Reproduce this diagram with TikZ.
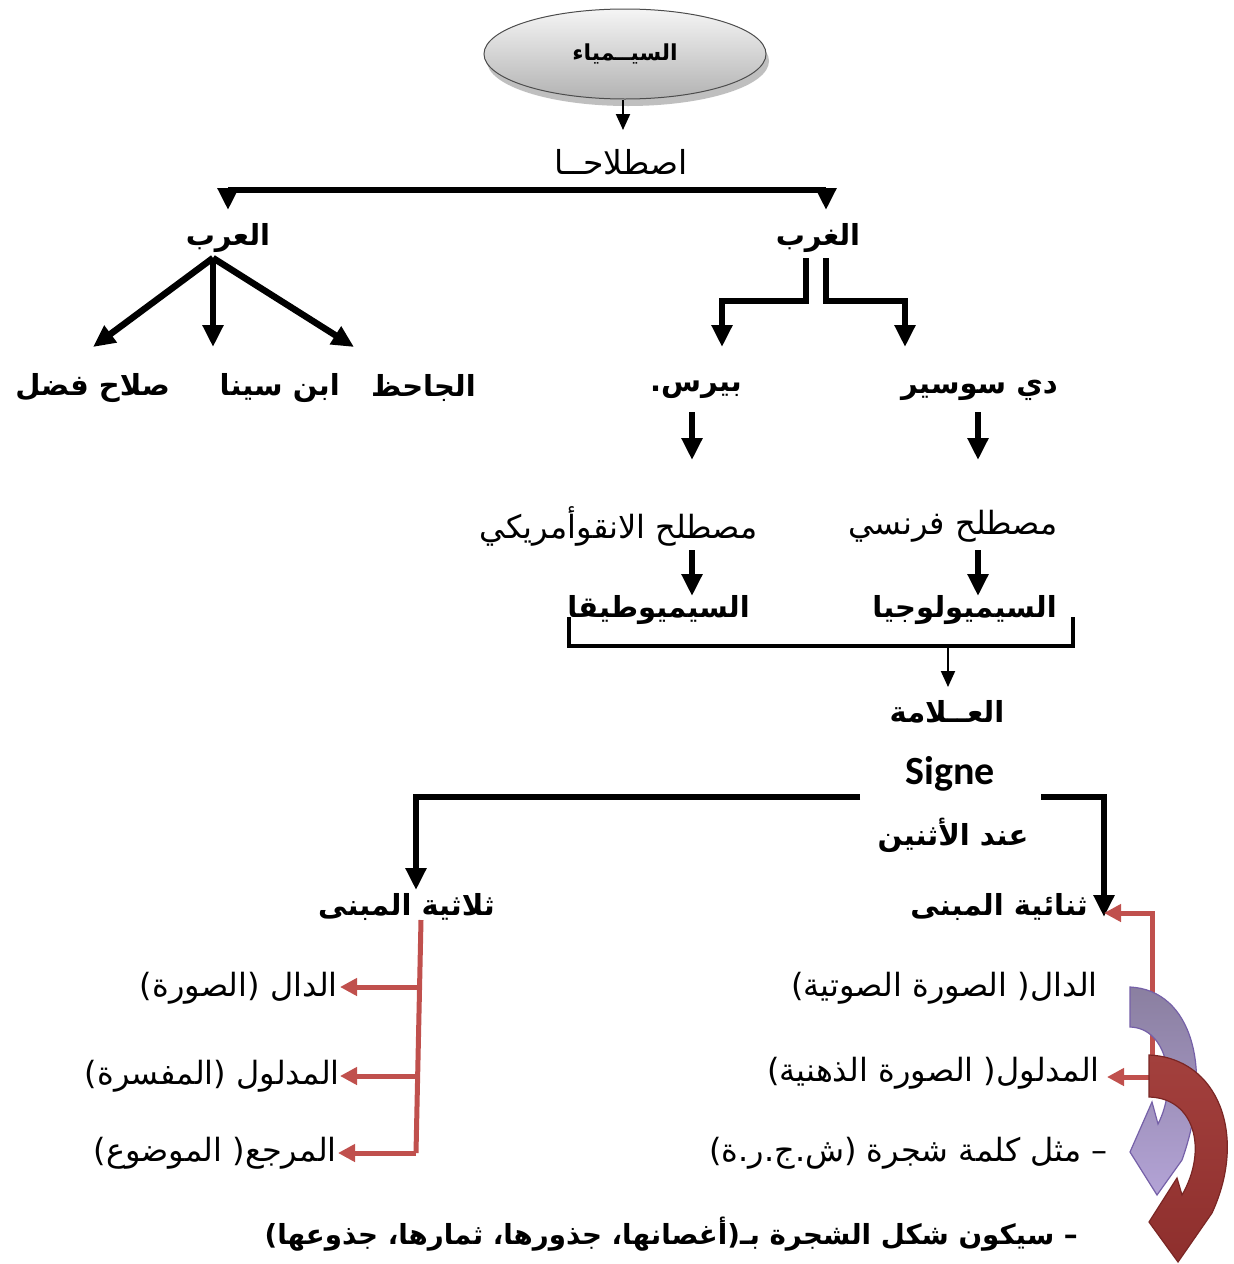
\documentclass[tikz,border=0pt]{standalone}
\usepackage{fontspec}
\TeXXeTstate=1
\newfontfamily\ar[Script=Arabic]{DejaVu Sans}
\newfontfamily\lat{Carlito}
\usetikzlibrary{arrows.meta,shapes.geometric}
\definecolor{redc}{HTML}{C0504D}
\definecolor{purA}{HTML}{8A7FA0}
\definecolor{purB}{HTML}{B3A3D6}
\definecolor{purE}{HTML}{7560A8}
\definecolor{redA}{HTML}{A3403D}
\definecolor{redB}{HTML}{8E2F2D}
\definecolor{redE}{HTML}{7A2624}
\begin{document}
\begin{tikzpicture}[x=1pt,y=-1pt,
  bl/.style={font=\ar\bfseries\fontsize{29}{32}\selectfont, inner sep=0pt},
  rg/.style={font=\ar\fontsize{32}{35}\selectfont, inner sep=0pt},
  blk/.style={line width=6.5pt, -{Triangle[length=22pt,width=20pt]}},
  thn/.style={line width=2pt, -{Triangle[length=16pt,width=14pt]}},
  redarr/.style={draw=redc, line width=5pt, -{Triangle[length=17pt,width=17pt]}},
  redline/.style={draw=redc, line width=5pt},
]
\useasboundingbox[fill=white] (0,0) rectangle (1234,1264);

% ellipse
\fill[gray!50] (628,61) ellipse [x radius=141pt, y radius=45pt];
\node[ellipse, minimum width=282pt, minimum height=90pt, top color=gray!8, bottom color=gray!60,
      draw=gray!60!black, line width=1pt, font=\ar\bfseries\fontsize{22}{25}\selectfont] (sim) at (625,54) {\beginR السيــمياء\endR};

\node[rg, font=\ar\fontsize{33}{36}\selectfont] (istl) at (621,162) {\beginR اصطلاحــا\endR};
\coordinate (istlTip) at (623,130);
\draw[thn] (sim.south) ++(-2,0) coordinate (simB) -- (istlTip);

% Arab / West
\node[bl] (arab) at (228,238) {\beginR العرب\endR};
\node[bl] (gharb) at (818,238) {\beginR الغرب\endR};
\coordinate (hL) at (228,190);
\coordinate (hR) at (826,190);
\coordinate (hLt) at (228,210);
\coordinate (hRt) at (826,210);
\draw[line width=6.5pt] (hL) -- (hR);
\draw[blk] (hL) -- (hLt);
\draw[blk] (hR) -- (hRt);

% Arab children
\node[bl, anchor=east] (salah) at (170,388) {\beginR صلاح فضل\endR};
\node[bl, anchor=east] (sina) at (340,388) {\beginR ابن سينا\endR};
\node[bl, anchor=east] (jahiz) at (476,388) {\beginR الجاحظ\endR};
\coordinate (a0) at (213,258);
\coordinate (a1) at (93,347);
\coordinate (a2) at (213,347);
\coordinate (a3) at (354,347);
\draw[blk] (a0) -- (a1);
\draw[blk] (a0) -- (a2);
\draw[blk] (a0) -- (a3);

% West children
\node[bl, anchor=east] (peirce) at (742,390) {\beginR بيرس.\endR};
\node[bl, anchor=east] (saus) at (1058,390) {\beginR دي سوسير\endR};
\coordinate (g1) at (806,258);
\coordinate (g1b) at (806,301);
\coordinate (g1c) at (722,301);
\coordinate (g1t) at (722,347);
\coordinate (g2) at (826,258);
\coordinate (g2b) at (826,301);
\coordinate (g2c) at (905,301);
\coordinate (g2t) at (905,347);
\draw[blk] (g1) -- (g1b) -- (g1c) -- (g1t);
\draw[blk] (g2) -- (g2b) -- (g2c) -- (g2t);

\node[rg, anchor=east] (angl) at (758,526) {\beginR مصطلح الانقوأمريكي\endR};
\node[rg, anchor=east] (fren) at (1058,526) {\beginR مصطلح فرنسي\endR};
\coordinate (p1) at (692,412);
\coordinate (p1t) at (692,460);
\coordinate (s1) at (978,412);
\coordinate (s1t) at (978,460);
\draw[blk] (p1) -- (p1t);
\draw[blk] (s1) -- (s1t);

\node[bl, anchor=east] (semt) at (750,610) {\beginR السيميوطيقا\endR};
\node[bl, anchor=east] (seml) at (1057,610) {\beginR السيميولوجيا\endR};
\coordinate (p2) at (692,550);
\coordinate (p2t) at (692,596);
\coordinate (s2) at (978,550);
\coordinate (s2t) at (978,596);
\draw[blk] (p2) -- (p2t);
\draw[blk] (s2) -- (s2t);

% bracket
\coordinate (b1) at (569,617);
\coordinate (b2) at (569,646);
\coordinate (b3) at (1073,646);
\coordinate (b4) at (1073,617);
\draw[line width=4.5pt] (b1) -- (b2) -- (b3) -- (b4);
\coordinate (bm) at (948,648);
\coordinate (bmt) at (948,687);
\draw[thn] (bm) -- (bmt);

\node[bl] (alama) at (947,712) {\beginR العــلامة\endR};
\node[font=\lat\bfseries\fontsize{40}{44}\selectfont, inner sep=0pt] (signe) at (950,774) {Signe};
\node[bl] (ind) at (953,835) {\beginR عند الأثنين\endR};

% two branches
\node[bl, anchor=east] (thul) at (495,907) {\beginR ثلاثية المبنى\endR};
\node[bl, anchor=east] (thun) at (1088,907) {\beginR ثنائية المبنى\endR};
\coordinate (l1) at (860,797);
\coordinate (l2) at (416,797);
\coordinate (l3) at (416,890);
\coordinate (r1) at (1041,797);
\coordinate (r2) at (1104,797);
\coordinate (r3) at (1104,917);
\draw[blk] (l1) -- (l2) -- (l3);
\draw[blk] (r1) -- (r2) -- (r3);

% left red
\node[rg, anchor=east] (dal1) at (338,988) {\beginR الدال  (الصورة)\endR};
\node[rg, anchor=east] (mad1) at (340,1076) {\beginR المدلول  (المفسرة)\endR};
\node[rg, anchor=east] (mar1) at (337,1153) {\beginR المرجع( الموضوع)\endR};
\coordinate (lv1) at (421,920);
\coordinate (lv2) at (419,987);
\coordinate (lv3) at (418,1076);
\coordinate (lv4) at (416,1153);
\coordinate (lt2) at (340,987);
\coordinate (lt3) at (340,1076);
\coordinate (lt4) at (338,1153);
\draw[redline] (lv1) -- (lv4);
\draw[redarr] (lv2) -- (lt2);
\draw[redarr] (lv3) -- (lt3);
\draw[redarr] (lv4) -- (lt4);

% right red
\node[rg, anchor=east] (dal2) at (1098,988) {\beginR الدال( الصورة الصوتية)\endR};
\node[rg, anchor=east] (mad2) at (1100,1073) {\beginR المدلول( الصورة الذهنية)\endR};
\node[rg, anchor=east] (ex1) at (1108,1153) {\beginR – مثل كلمة شجرة (ش.ج.ر.ة)\endR};
\node[bl, anchor=east, font=\ar\bfseries\fontsize{27.7}{31}\selectfont] (ex2) at (1078,1234) {\beginR – سيكون شكل الشجرة بـ(أغصانها، جذورها، ثمارها، جذوعها)\endR};
\coordinate (rv1) at (1152,1079);
\coordinate (rv2) at (1152,913);
\coordinate (rt2) at (1104,913);
\coordinate (rv3) at (1152,1077);
\coordinate (rt3) at (1107,1077);
\draw[redarr] (rv1) -- (rv2) -- (rt2);
\draw[redarr] (rv3) -- (rt3);

% curved arrows
\draw[purE, line width=1.2pt, top color=purA, bottom color=purB]
  (1130,987) .. controls (1192,990) and (1214,1070) .. (1182,1160)
  -- (1157,1195) -- (1130,1152) -- (1152,1102) -- (1158,1124)
  .. controls (1178,1085) and (1168,1028) .. (1130,1027) -- cycle;
\draw[redE, line width=1.2pt, top color=redA, bottom color=redB]
  (1149,1055) .. controls (1218,1058) and (1248,1135) .. (1212,1213)
  -- (1178,1262) -- (1149,1222) -- (1177,1178) -- (1182,1195)
  .. controls (1208,1150) and (1195,1098) .. (1149,1097) -- cycle;
\end{tikzpicture}
\end{document}
